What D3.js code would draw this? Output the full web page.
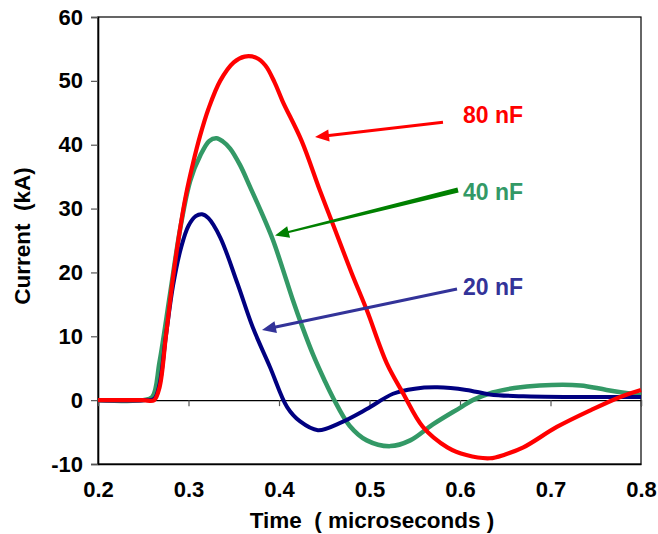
<!DOCTYPE html>
<html>
<head>
<meta charset="utf-8">
<script src="https://cdn.jsdelivr.net/npm/d3@7"></script>
<style>
  body { margin: 0; background: #fff; }
  text { font-family: "Liberation Sans", Arial, sans-serif; font-weight: bold; white-space: pre; }
</style>
</head>
<body>
<svg id="chart" width="658" height="534"></svg>
<script>
// current waveforms for three capacitor values (time in microseconds, current in kA)
var t20 = [0.20, 0.25, 0.262, 0.268, 0.275, 0.283, 0.292, 0.300, 0.308, 0.315, 0.322, 0.335, 0.354, 0.371, 0.390, 0.409, 0.423, 0.443, 0.467, 0.497, 0.526, 0.550, 0.575, 0.607, 0.633, 0.670, 0.725, 0.800];
var i20 = [0.0, 0.0, 0.2, 2.5, 10.0, 18.0, 24.0, 27.3, 28.8, 29.1, 28.5, 25.5, 18.3, 11.4, 5.2, -1.1, -3.3, -4.7, -3.6, -1.4, 1.0, 1.8, 2.0, 1.6, 0.9, 0.6, 0.5, 0.5];

var t40 = [0.20, 0.25, 0.260, 0.268, 0.280, 0.291, 0.302, 0.313, 0.323, 0.331, 0.338, 0.346, 0.357, 0.368, 0.380, 0.393, 0.404, 0.415, 0.426, 0.438, 0.450, 0.460, 0.478, 0.497, 0.523, 0.545, 0.570, 0.600, 0.614, 0.636, 0.660, 0.688, 0.733, 0.762, 0.800];
var i40 = [0.0, 0.0, 0.5, 6.0, 17.0, 27.0, 34.4, 38.3, 40.6, 41.0, 40.5, 39.4, 36.8, 33.4, 29.6, 25.2, 20.6, 15.8, 11.4, 7.0, 3.2, 0.3, -4.0, -6.3, -7.2, -6.3, -3.8, -1.2, 0.0, 1.2, 1.9, 2.3, 2.3, 1.6, 0.8];

var t80 = [0.20, 0.25, 0.262, 0.268, 0.275, 0.283, 0.291, 0.297, 0.305, 0.313, 0.322, 0.335, 0.350, 0.362, 0.375, 0.385, 0.395, 0.404, 0.425, 0.445, 0.460, 0.480, 0.497, 0.519, 0.537, 0.559, 0.586, 0.607, 0.633, 0.650, 0.670, 0.707, 0.744, 0.777, 0.800];
var i80 = [0.0, 0.0, 0.0, 2.0, 10.0, 19.3, 27.1, 32.0, 37.1, 41.5, 45.6, 50.0, 52.9, 53.8, 53.6, 52.4, 49.8, 46.8, 40.6, 32.9, 27.4, 20.0, 14.1, 5.8, 1.1, -4.2, -7.4, -8.6, -9.1, -8.5, -7.4, -4.2, -1.6, 0.5, 1.6];

var xTicks = [0.2, 0.3, 0.4, 0.5, 0.6, 0.7, 0.8];
var yTicks = [-10, 0, 10, 20, 30, 40, 50, 60];

// labels and arrows in data units
var labelNames = ["80 nF", "40 nF", "20 nF"];
var labelPos = [[0.6033, 43.4], [0.6033, 31.3], [0.6033, 16.4]];
var arrowFrom = [[0.5812, 43.5], [0.5978, 32.9], [0.5967, 17.4]];
var arrowTo = [[0.4398, 41.2], [0.3956, 25.8], [0.3812, 11.0]];

var lineColors = ["#ff0000", "#339966", "#000080"];
var labelColors = ["#ff0000", "#339966", "#333399"];
var arrowColors = ["#ff0000", "#008000", "#333399"];

var svg = d3.select('#chart');

var pLeft = 98, pTop = 17, pRight = 641, pBottom = 464;

var x = d3.scaleLinear().domain([0.2, 0.8]).range([pLeft, pRight]);
var y = d3.scaleLinear().domain([-10, 60]).range([pBottom, pTop]);

// frame
svg.append('rect')
  .attr('x', pLeft).attr('y', pTop)
  .attr('width', pRight - pLeft).attr('height', pBottom - pTop)
  .attr('fill', 'none').attr('stroke', '#000').attr('stroke-width', 1.2);

// y axis
var yAxis = svg.append('g')
  .attr('transform', 'translate(' + pLeft + ',0)')
  .call(d3.axisLeft(y).tickValues(yTicks).tickSize(7).tickPadding(8).tickFormat(function(d){ return String(d); }));
yAxis.select('.domain').attr('stroke', '#000').attr('stroke-width', 1.6);
yAxis.selectAll('.tick line').attr('stroke', '#555').attr('stroke-width', 1.2);
yAxis.selectAll('text').attr('font-size', 22).attr('fill', '#000')
  .style('font-family', '"Liberation Sans", Arial, sans-serif').style('font-weight', 'bold');

// x tick labels along the bottom
var xAxis = svg.append('g')
  .attr('transform', 'translate(0,' + pBottom + ')')
  .call(d3.axisBottom(x).tickValues(xTicks).tickSize(0).tickPadding(17).tickFormat(d3.format('.1f')));
xAxis.select('.domain').attr('stroke', '#000').attr('stroke-width', 1.4);
xAxis.selectAll('text').attr('font-size', 22).attr('fill', '#000')
  .style('font-family', '"Liberation Sans", Arial, sans-serif').style('font-weight', 'bold');

// zero line with small ticks hanging down
var zAxis = svg.append('g')
  .attr('transform', 'translate(0,' + y(0) + ')')
  .call(d3.axisBottom(x).tickValues(xTicks).tickSize(6).tickFormat(''));
zAxis.select('.domain').attr('stroke', '#000').attr('stroke-width', 1.2);
zAxis.selectAll('.tick line').attr('stroke', '#555').attr('stroke-width', 1.2);

// curves
var line = d3.line()
  .x(function(d){ return x(d[0]); })
  .y(function(d){ return y(d[1]); })
  .curve(d3.curveCatmullRom.alpha(0.5));

var series = [
  { t: t40, i: i40, color: lineColors[1], w: 4.5 },
  { t: t20, i: i20, color: lineColors[2], w: 4 },
  { t: t80, i: i80, color: lineColors[0], w: 4.2 }
];

series.forEach(function(s){
  svg.append('path')
    .datum(d3.zip(s.t, s.i))
    .attr('d', line)
    .attr('fill', 'none')
    .attr('stroke', s.color)
    .attr('stroke-width', s.w)
    .attr('stroke-linejoin', 'round');
});

// arrows
function drawArrow(k){
  var x1 = x(arrowFrom[k][0]), y1 = y(arrowFrom[k][1]);
  var x2 = x(arrowTo[k][0]), y2 = y(arrowTo[k][1]);
  var dx = x2 - x1, dy = y2 - y1;
  var len = Math.sqrt(dx*dx + dy*dy);
  var ux = dx/len, uy = dy/len;
  var px = -uy, py = ux;
  var hl = 14, hw = 6;
  var bx = x2 - ux*hl, by = y2 - uy*hl;
  var w0 = (k === 1) ? 2.6 : 1.5; // green one is thicker at the tail
  var w1 = (k === 1) ? 1.1 : 1.5;
  var pts = [
    [x1 + px*w0, y1 + py*w0],
    [bx + px*w1, by + py*w1],
    [bx + px*hw, by + py*hw],
    [x2, y2],
    [bx - px*hw, by - py*hw],
    [bx - px*w1, by - py*w1],
    [x1 - px*w0, y1 - py*w0]
  ];
  svg.append('polygon')
    .attr('points', pts.map(function(p){ return p.join(','); }).join(' '))
    .attr('fill', arrowColors[k]);
}

for (var k = 0; k < 3; k++) {
  drawArrow(k);
  svg.append('text')
    .attr('x', x(labelPos[k][0]))
    .attr('y', y(labelPos[k][1]))
    .attr('font-size', 23)
    .attr('fill', labelColors[k])
    .text(labelNames[k]);
}

// axis titles
svg.append('text')
  .attr('transform', 'translate(30,236) rotate(-90)')
  .attr('text-anchor', 'middle')
  .attr('font-size', 22.5)
  .text('Current  (kA)');

svg.append('text')
  .attr('x', 372).attr('y', 528)
  .attr('text-anchor', 'middle')
  .attr('font-size', 22.5)
  .text('Time  ( microseconds )');
</script>
</body>
</html>
